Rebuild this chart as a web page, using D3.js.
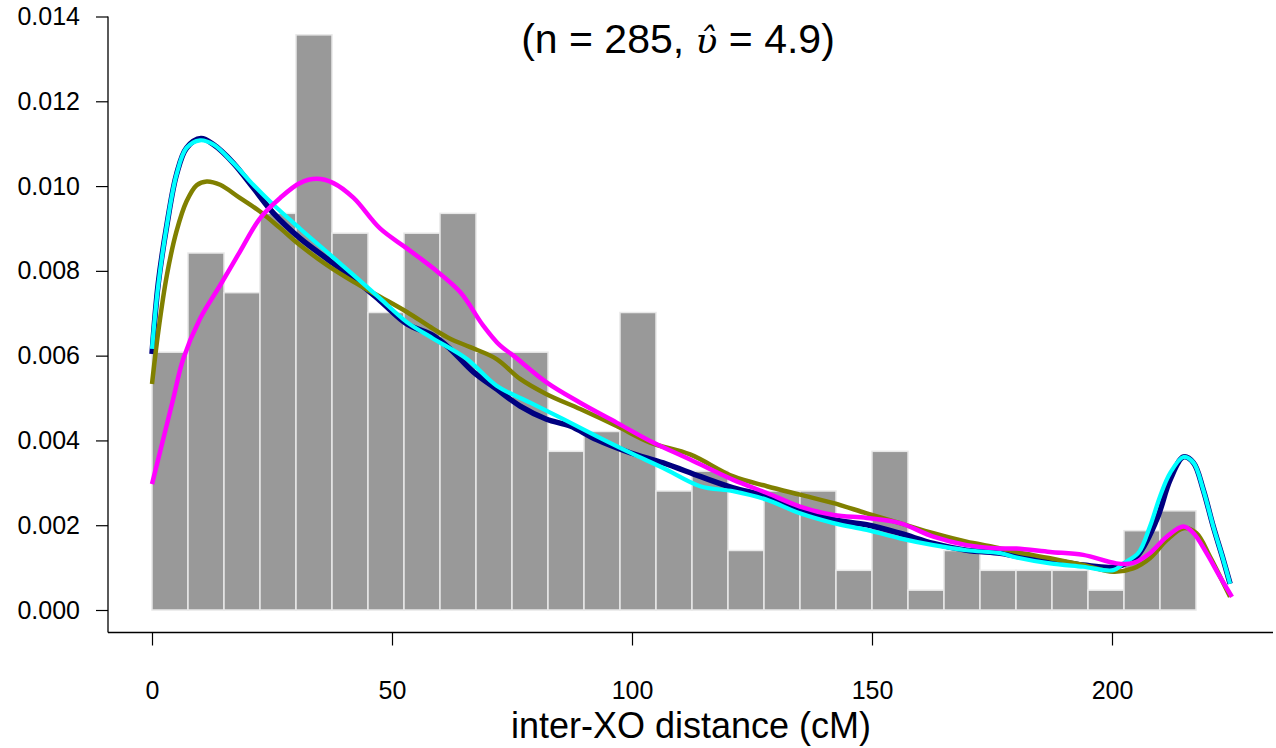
<!DOCTYPE html>
<html>
<head>
<meta charset="utf-8">
<script src="https://cdn.jsdelivr.net/npm/d3@7"></script>
<style>
  html, body { margin: 0; padding: 0; background: #ffffff; }
  svg { display: block; font-family: "Liberation Sans", Arial, sans-serif; }
</style>
</head>
<body>
<svg id="chart" width="1276" height="748"></svg>
<script>
// ---------------- DATA ----------------
const binWidth = 7.5;
const binStarts = d3.range(0, 225, 7.5); // 30 bins, 0 .. 217.5
const binCounts = [13, 18, 16, 20, 29, 19, 15, 19, 20, 13, 13, 8, 9, 15, 6, 7, 3, 6, 6, 2, 8, 1, 3, 2, 2, 2, 1, 4, 5, 0];
const nObs = 285;
const xTicks = [0, 50, 100, 150, 200];
const yTicks = [0, 0.002, 0.004, 0.006, 0.008, 0.010, 0.012, 0.014];
const xLabel = "inter-XO distance (cM)";
const subtitleA = "(n = 285, ";
const subtitleSym = "\u03C5\u0302";
const subtitleB = " = 4.9)";

const navyCurve = [
  [0,0.00604],[1.3,0.0077],[3.1,0.00908],[5.1,0.01027],[7.2,0.0109],[10.2,0.01112],[12.8,0.01098],
  [16.9,0.01055],[21.1,0.00996],[25.3,0.00936],[30.8,0.00877],[36.4,0.00829],[42,0.00782],
  [47.5,0.0073],[53.1,0.00675],[58.6,0.00647],[62.1,0.00616],[67,0.00561],[71.8,0.00521],
  [76.7,0.00481],[82.2,0.0045],[87.1,0.00434],[92.6,0.00402],[99.6,0.00371],[106.5,0.00347],
  [114.2,0.00315],[121.1,0.00288],[128.1,0.00268],[135,0.00236],[142,0.00213],[148.9,0.00201],
  [155.8,0.00181],[162.8,0.00157],[169.7,0.00141],[176.7,0.00134],[180.1,0.00127],[187.1,0.00118],
  [194,0.00106],[200.9,0.00102],[205.1,0.00126],[209.3,0.00213],[212.1,0.00307],[214.9,0.00361],
  [217,0.00347],[219,0.00284],[221.1,0.00197],[223.2,0.00118],[224.6,0.00062]
];
const oliveCurve = [
  [0,0.00533],[1.3,0.00656],[3.1,0.0079],[5.1,0.00893],[7.2,0.00964],[9.3,0.01002],[11.4,0.01011],
  [14.2,0.01003],[18.3,0.00972],[22.5,0.0094],[26.7,0.00901],[30.8,0.00861],[36.4,0.00814],
  [42,0.00774],[47.5,0.00739],[53.1,0.00703],[58.6,0.00663],[62.1,0.0064],[66.3,0.0062],
  [71.8,0.00592],[76.7,0.00545],[82.2,0.00509],[89.2,0.00474],[96.8,0.00434],[103.8,0.00395],
  [112.1,0.00367],[121.1,0.00315],[128.1,0.00292],[135,0.00272],[142,0.00252],[148.9,0.00228],
  [155.8,0.00205],[162.8,0.00181],[169.7,0.00161],[175.3,0.00149],[180.1,0.00137],[187.1,0.00122],
  [194,0.00106],[200.3,0.0009],[204.4,0.00098],[207.9,0.00122],[211.4,0.00165],[214.9,0.00193],
  [217.6,0.00181],[220.4,0.00126],[224.6,0.00031]
];
const cyanCurve = [
  [0,0.00616],[1.3,0.00766],[3.1,0.00908],[5.1,0.01027],[7.2,0.0109],[10,0.01108],[12.8,0.01098],
  [16.9,0.01055],[21.1,0.01003],[25.3,0.00956],[30.8,0.009],[36.4,0.00845],[42,0.0079],
  [47.5,0.00735],[53.1,0.00679],[58.6,0.0064],[65.6,0.00592],[71.8,0.00529],[78.8,0.00489],
  [85.7,0.0045],[92.6,0.0041],[99.6,0.00371],[106.5,0.00335],[114.2,0.00292],[121.1,0.0028],
  [128.1,0.0026],[135,0.00228],[142,0.00205],[148.9,0.00189],[155.8,0.00169],[162.8,0.00153],
  [169.7,0.00141],[176.7,0.00134],[180.1,0.00124],[187.1,0.0011],[194,0.00102],[200.3,0.00094],
  [202.4,0.0011],[205.5,0.00135],[207.9,0.00197],[210,0.00268],[212.1,0.00323],[214.9,0.00361],
  [217,0.00347],[219,0.00284],[221.1,0.00197],[223.2,0.00118],[224.6,0.00062]
];
const magentaCurve = [
  [0,0.00297],[4.4,0.00497],[6.5,0.00592],[10,0.00687],[14.2,0.00766],[18.3,0.00845],[22.5,0.00924],
  [26.7,0.00972],[30.8,0.01007],[34.3,0.01017],[37.8,0.01007],[42,0.00972],[47.5,0.009],
  [53.1,0.00853],[58.6,0.00806],[64.2,0.0075],[69,0.00671],[72.5,0.00624],[75.3,0.006],
  [82.2,0.00537],[89.2,0.00489],[96.8,0.00442],[104.4,0.00395],[112.1,0.00355],[121.1,0.00307],
  [128.1,0.00276],[135,0.00244],[142,0.00224],[148.9,0.00217],[155.8,0.00205],[162.8,0.00173],
  [169.7,0.00153],[176.7,0.00145],[180.1,0.00145],[187.1,0.00137],[194,0.0013],[200.9,0.0011],
  [204.4,0.00111],[207.9,0.00134],[211.4,0.00173],[214.9,0.00197],[217,0.00181],[219.7,0.00134],
  [222.5,0.00078],[225,0.00031]
];

// ---------------- CHART ----------------
const svg = d3.select("#chart");

const x = d3.scaleLinear().domain([0, 225]).range([152, 1232]);
const y = d3.scaleLinear().domain([0, 0.014]).range([610, 16.5]);

// histogram bars
const bars = binStarts.map((s, i) => ({ x0: s, x1: s + binWidth, d: binCounts[i] / (nObs * binWidth) }));
svg.append("g").selectAll("rect").data(bars).join("rect")
  .attr("x", d => x(d.x0))
  .attr("y", d => y(d.d))
  .attr("width", d => x(d.x1) - x(d.x0))
  .attr("height", d => y(0) - y(d.d))
  .attr("fill", "#999999")
  .attr("stroke", "#e8e8e8")
  .attr("stroke-width", 1.5);

// density curves
const line = d3.line().x(d => x(d[0])).y(d => y(d[1])).curve(d3.curveCatmullRom.alpha(0.5));
const curves = [
  { data: navyCurve, color: "#000080", w: 5.5 },
  { data: oliveCurve, color: "#808000", w: 4.5 },
  { data: cyanCurve, color: "#00FFFF", w: 4.2 },
  { data: magentaCurve, color: "#FF00FF", w: 4.5 }
];
svg.append("g").selectAll("path").data(curves).join("path")
  .attr("d", c => line(c.data))
  .attr("fill", "none")
  .attr("stroke", c => c.color)
  .attr("stroke-width", c => c.w)
  .attr("stroke-linejoin", "round")
  .attr("stroke-linecap", "butt");

// axes frame (L shape)
const axisX = 108, axisBottom = 632.5;
svg.append("line").attr("x1", axisX).attr("x2", axisX).attr("y1", y(0.014)).attr("y2", axisBottom)
  .attr("stroke", "#000").attr("stroke-width", 1.3);
svg.append("line").attr("x1", axisX).attr("x2", 1273).attr("y1", axisBottom).attr("y2", axisBottom)
  .attr("stroke", "#000").attr("stroke-width", 1.3);

// y axis
const yAxis = d3.axisLeft(y).tickValues(yTicks).tickFormat(d3.format(".3f")).tickSize(12).tickPadding(16);
const gy = svg.append("g").attr("transform", `translate(${axisX},0)`).call(yAxis);
gy.select(".domain").remove();
gy.selectAll(".tick line").attr("stroke", "#000").attr("stroke-width", 1.2);
gy.selectAll(".tick text").attr("font-size", 25).attr("fill", "#000")
  .attr("font-family", "Liberation Sans, Arial, sans-serif");

// x axis
const xAxis = d3.axisBottom(x).tickValues(xTicks).tickFormat(d3.format("d")).tickSize(13).tickPadding(36);
const gx = svg.append("g").attr("transform", `translate(0,${axisBottom})`).call(xAxis);
gx.select(".domain").remove();
gx.selectAll(".tick line").attr("stroke", "#000").attr("stroke-width", 1.2);
gx.selectAll(".tick text").attr("font-size", 25).attr("fill", "#000")
  .attr("font-family", "Liberation Sans, Arial, sans-serif");

// x label
svg.append("text").attr("x", 691).attr("y", 738).attr("text-anchor", "middle")
  .attr("font-size", 36).attr("fill", "#000").text(xLabel);

// subtitle with hat-upsilon (combining circumflex)
const sub = svg.append("text").attr("x", 678).attr("y", 53).attr("text-anchor", "middle")
  .attr("font-size", 41).attr("fill", "#000");
sub.append("tspan").text(subtitleA);
sub.append("tspan").attr("font-family", "DejaVu Serif, serif").attr("font-style", "italic")
  .attr("font-size", 36).text(subtitleSym);
sub.append("tspan").text(subtitleB);
</script>
</body>
</html>
